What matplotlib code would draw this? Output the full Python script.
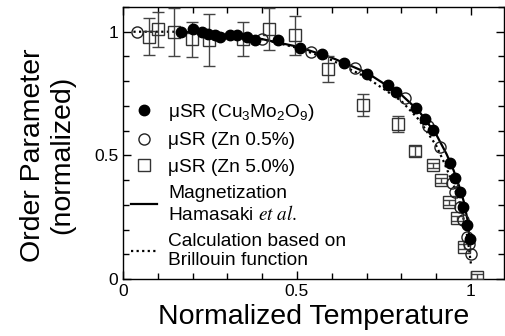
import matplotlib
matplotlib.use("Agg")
import matplotlib.pyplot as plt
import matplotlib.lines as mlines
from matplotlib.ticker import MultipleLocator, FixedLocator, FixedFormatter

plt.rcParams['font.family'] = ['Liberation Sans', 'DejaVu Sans']
plt.rcParams['mathtext.fontset'] = 'stix'

# Cu3Mo2O9 (filled circles)
cu_t = [0.167, 0.20, 0.226, 0.245, 0.265, 0.28, 0.307, 0.327, 0.355, 0.38, 0.445, 0.509,
        0.571, 0.635, 0.70, 0.762, 0.786, 0.842, 0.868, 0.891, 0.94, 0.955, 0.968, 0.978,
        0.988, 0.997]
cu_m = [1.0, 1.01, 1.0, 0.99, 0.985, 0.98, 0.988, 0.985, 0.98, 0.968, 0.968, 0.936,
        0.91, 0.875, 0.83, 0.783, 0.757, 0.692, 0.648, 0.603, 0.47, 0.41, 0.352, 0.29,
        0.22, 0.16]

# Zn 0.5% (open circles)
zn05_t = [0.04, 0.40, 0.54, 0.667, 0.81, 0.877, 0.91, 0.945, 0.955, 0.968, 0.977, 0.988, 0.995, 1.0]
zn05_m = [1.0, 0.97, 0.92, 0.853, 0.733, 0.62, 0.535, 0.39, 0.35, 0.29, 0.24, 0.17, 0.14, 0.10]

# Zn 5.0% (open squares with error bars)
zn5_t = [0.075, 0.10, 0.147, 0.198, 0.247, 0.345, 0.42, 0.495, 0.59, 0.69, 0.79, 0.84,
         0.89, 0.915, 0.937, 0.96, 0.98, 1.017]
zn5_m = [0.98, 1.01, 1.0, 0.97, 0.967, 0.97, 1.01, 0.985, 0.85, 0.705, 0.627, 0.518,
         0.46, 0.40, 0.31, 0.245, 0.13, 0.01]
zn5_err = [0.075, 0.07, 0.097, 0.071, 0.105, 0.07, 0.085, 0.079, 0.053, 0.045, 0.032, 0.02,
           0.01, 0.01, 0.01, 0.01, 0.01, 0.01]

# Magnetization (Hamasaki et al.)
mag_t = [0.17, 0.3, 0.4, 0.5, 0.6, 0.7, 0.8, 0.85, 0.9, 0.93, 0.95, 0.97, 0.98, 0.99, 0.997]
mag_m = [1.0, 0.985, 0.97, 0.94, 0.895, 0.835, 0.745, 0.68, 0.585, 0.505, 0.44, 0.36, 0.31, 0.24, 0.15]

# Brillouin function calculation
bri_t = [0.03, 0.2, 0.3, 0.4, 0.5, 0.6, 0.7, 0.8, 0.85, 0.9, 0.92, 0.95, 0.97, 0.99, 1.0]
bri_m = [1.0, 1.0, 0.99, 0.97, 0.935, 0.885, 0.815, 0.72, 0.645, 0.54, 0.48, 0.38, 0.30, 0.17, 0.06]

labels = ["μSR (Cu$\\mathregular{_3}$Mo$\\mathregular{_2}$O$\\mathregular{_9}$)",
          "μSR (Zn 0.5%)",
          "μSR (Zn 5.0%)",
          "Magnetization\nHamasaki $\\it{et\\ al.}$",
          "Calculation based on\nBrillouin function"]

fig = plt.figure(figsize=(5.05, 3.36), dpi=100)
ax = fig.add_axes([123/505, 1-279/336, (504-123)/505, (279-7)/336])

l_bri, = ax.plot(bri_t, bri_m, ls=(0, (1, 1.5)), color='black', lw=1.6, zorder=2)
l_mag, = ax.plot(mag_t, mag_m, ls='-', color='black', lw=1.6, zorder=2)
ax.errorbar(zn5_t, zn5_m, yerr=zn5_err, fmt='s', mfc='none', mec='#333333', ms=8,
            mew=1.0, ecolor='#444444', elinewidth=1.0, capsize=4.5, capthick=1.0, zorder=3)
l_o, = ax.plot(zn05_t, zn05_m, 'o', mfc='none', mec='#222222', ms=8, mew=1.0, zorder=4)
l_f, = ax.plot(cu_t, cu_m, 'o', color='black', ms=7.5, zorder=5)

h_sq = mlines.Line2D([], [], ls='none', marker='s', mfc='none', mec='#333333', ms=8, mew=1.0)

ax.legend([l_f, l_o, h_sq, l_mag, l_bri], labels, loc='upper left',
          bbox_to_anchor=(0.01, 0.665), frameon=False, fontsize=13.8,
          handlelength=1.4, handletextpad=0.55, labelspacing=0.47,
          borderpad=0.2, borderaxespad=0.0)

ax.set_xlim(0, 1.095)
ax.set_ylim(0, 1.1)
ax.xaxis.set_major_locator(FixedLocator([0, 0.5, 1]))
ax.xaxis.set_major_formatter(FixedFormatter(['0', '0.5', '1']))
ax.yaxis.set_major_locator(FixedLocator([0, 0.5, 1]))
ax.yaxis.set_major_formatter(FixedFormatter(['0', '0.5', '1']))
ax.xaxis.set_minor_locator(MultipleLocator(0.1))
ax.yaxis.set_minor_locator(MultipleLocator(0.1))
ax.tick_params(which='both', direction='in', top=True, right=True, labelsize=12.5)
ax.tick_params(which='major', length=6, width=1.0)
ax.tick_params(which='minor', length=4, width=1.0)
for s in ax.spines.values():
    s.set_linewidth(1.0)

ax.set_xlabel('Normalized Temperature', fontsize=20.5, labelpad=4)
ax.set_ylabel('Order Parameter\n(normalized)', fontsize=20.5, linespacing=1.15)
ax.yaxis.set_label_coords(-0.125, 0.455)

fig.savefig('out.png', dpi=100)
